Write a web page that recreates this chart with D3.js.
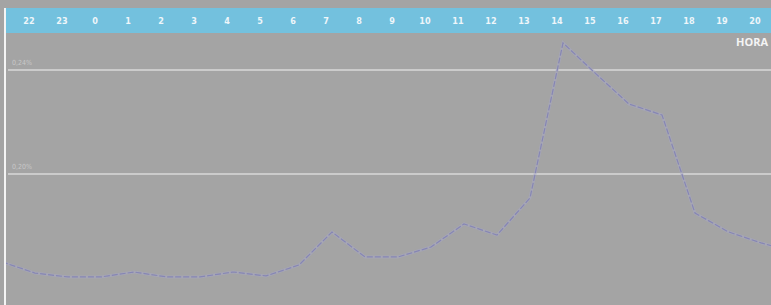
<!DOCTYPE html>
<html><head><meta charset="utf-8">
<script src="https://cdn.jsdelivr.net/npm/d3@7/dist/d3.min.js"></script>
<style>html,body{margin:0;padding:0;background:#a4a4a4;overflow:hidden}svg{display:block}</style>
</head><body>
<script>
const hours = [21,22,23,0,1,2,3,4,5,6,7,8,9,10,11,12,13,14,15,16,17,18,19,20,21];
const values = [0.1662,0.1619,0.1604,0.1604,0.1623,0.1604,0.1604,0.1623,0.1608,0.1650,0.1777,0.1681,0.1681,0.1719,0.1808,0.1765,0.1908,0.2504,0.2385,0.2269,0.2227,0.1850,0.1778,0.1735,0.1700];
const tickLabels = ["22","23","0","1","2","3","4","5","6","7","8","9","10","11","12","13","14","15","16","17","18","19","20"];
const yTicks = [0.20, 0.24];
const axisTitle = "HORA";

const W = 771, H = 305;
const svg = d3.select("body").append("svg").attr("width", W).attr("height", H);
svg.append("rect").attr("width", W).attr("height", H).attr("fill", "#a4a4a4");

const x = d3.scaleLinear().domain([0, 23]).range([2, 761]);
const y = d3.scaleLinear().domain([0.20, 0.24]).range([174, 70]);

// top band
svg.append("rect").attr("x", 5).attr("y", 8).attr("width", W - 5).attr("height", 25).attr("fill", "#73c1de");
// left white rule
svg.append("rect").attr("x", 4).attr("y", 8).attr("width", 2).attr("height", H - 8).attr("fill", "#f4f4f4");

// gridlines
const grid = svg.append("g");
yTicks.forEach(t => {
  grid.append("line").attr("x1", 8).attr("x2", W).attr("y1", y(t)).attr("y2", y(t))
    .attr("stroke", "#cbcbcb").attr("stroke-width", 2);
  grid.append("text").attr("x", 12).attr("y", y(t) - 5)
    .attr("font-family", "DejaVu Sans Condensed, DejaVu Sans, sans-serif").attr("font-size", 7)
    .attr("fill", "#c8c8c8").text(t.toFixed(2).replace(".", ",") + "%");
});

// tick labels
svg.append("g").selectAll("text").data(tickLabels).join("text")
  .attr("x", (d, i) => x(i + 1) - 6).attr("y", 24)
  .attr("text-anchor", "middle")
  .attr("font-family", "DejaVu Sans Condensed, DejaVu Sans, sans-serif")
  .attr("font-weight", "bold").attr("font-size", 9)
  .attr("fill", "#eef6fa").text(d => d);

svg.append("text").attr("x", 768).attr("y", 46).attr("text-anchor", "end")
  .attr("font-family", "Open Sans, DejaVu Sans, sans-serif").attr("font-weight", "bold")
  .attr("font-size", 11).attr("fill", "#f4f4f4").text(axisTitle);

// line
const line = d3.line().x((d, i) => x(i)).y(d => y(d));
svg.append("clipPath").attr("id", "c").append("rect").attr("x", 6).attr("y", 33).attr("width", W).attr("height", H);
const lg = svg.append("g").attr("clip-path", "url(#c)");
lg.append("path").datum(values).attr("d", line).attr("fill", "none")
  .attr("stroke", "#a8a8c6").attr("stroke-width", 3).attr("opacity", 0.5);
lg.append("path").datum(values).attr("d", line).attr("fill", "none")
  .attr("stroke", "#8686b4").attr("stroke-width", 1.2).attr("stroke-dasharray", "6,2");
</script>
</body></html>
